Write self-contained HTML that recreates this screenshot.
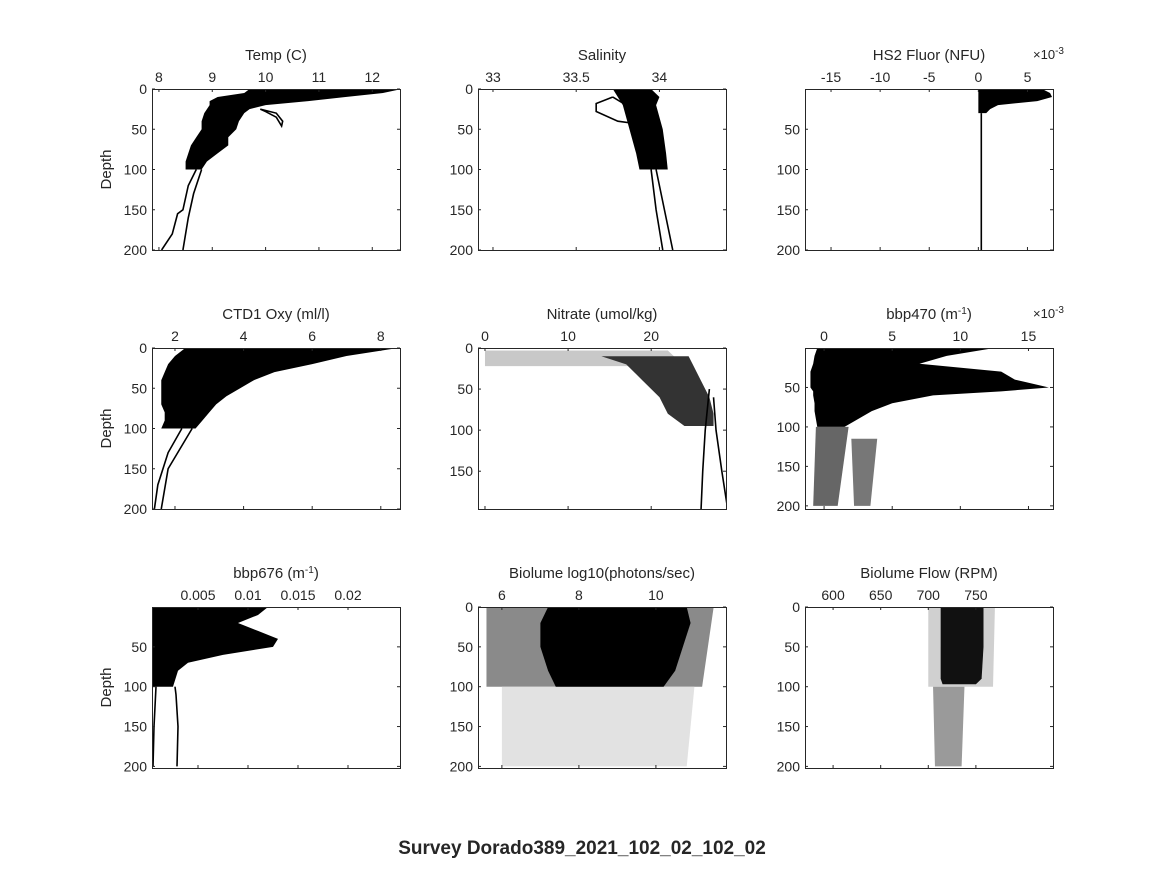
<!DOCTYPE html>
<html><head><meta charset="utf-8"><style>
body{margin:0;background:#fff;}
svg text{font-family:"Liberation Sans","DejaVu Sans",sans-serif;fill:#262626;}
</style></head><body>
<svg id="fig" width="1164" height="864" xmlns="http://www.w3.org/2000/svg">
<rect width="1164" height="864" fill="#fff"/>
<text x="582" y="854" text-anchor="middle" font-size="19" font-weight="bold" fill="#000">Survey Dorado389_2021_102_02_102_02</text>
</svg>
<script>
// ---- data (depth vs value envelopes) ----
const tempDepth=[0,5,10,15,20,25,30,40,50,60,70,80,90,100];
const tempLo=[9.7,9.6,9.1,8.95,8.95,8.9,8.85,8.8,8.8,8.7,8.6,8.55,8.5,8.5];
const tempHi=[12.55,12.2,11.5,10.8,10.0,9.7,9.6,9.5,9.45,9.3,9.3,9.1,8.9,8.8];
const tempLineADepth=[100,120,150,155,180,200];
const tempLineAX=[8.7,8.55,8.45,8.35,8.25,8.05];
const tempLineBDepth=[100,130,160,200];
const tempLineBX=[8.8,8.65,8.55,8.45];
const tempLoopDepth=[25,30,40,46,35,28,25];
const tempLoopX=[9.9,10.2,10.32,10.3,10.2,10.0,9.9];

const salDepth=[0,10,20,50,80,100];
const salLo=[33.72,33.75,33.78,33.82,33.86,33.88];
const salHi=[33.95,34.0,33.98,34.02,34.04,34.05];
const salLineADepth=[100,150,200];
const salLineAX=[33.95,33.98,34.02];
const salLineBDepth=[100,150,200];
const salLineBX=[33.98,34.03,34.08];
const salLoopDepth=[10,18,28,40,42,32,20,10];
const salLoopX=[33.72,33.62,33.62,33.75,33.82,33.86,33.8,33.72];

const fluorDepth=[0,5,10,15,20,25,30];
const fluorLo=[0,0,0,0,0,0,0];
const fluorHi=[6.5,7.3,7.5,6.0,2.0,1.2,0.8];
const fluorLineDepth=[30,60,200];
const fluorLineX=[0.3,0.3,0.3];

const oxyDepth=[0,10,20,30,40,50,60,70,80,90,100];
const oxyLo=[2.3,2.0,1.8,1.7,1.6,1.6,1.6,1.6,1.7,1.7,1.6];
const oxyHi=[8.5,7.0,6.0,4.9,4.3,3.9,3.5,3.2,3.0,2.8,2.6];
const oxyLineADepth=[100,130,170,200];
const oxyLineAX=[2.2,1.8,1.5,1.4];
const oxyLineBDepth=[100,150,200];
const oxyLineBX=[2.5,1.8,1.6];

const nitDepth=[10,20,40,60,80,95];
const nitLo=[14,17,19,21,22,24];
const nitHi=[24.5,25,26,27,27.5,27.5];
const nitSparseDepth=[3,22];
const nitSparseLo=[0,0];
const nitSparseHi=[22,24];
const nitLineADepth=[50,100,150,196];
const nitLineAX=[27,26.5,26.2,26];
const nitLineBDepth=[60,100,150,196];
const nitLineBX=[27.5,27.8,28.5,29.2];

const b470Depth=[0,10,20,30,40,50,55,60,70,80,90,100];
const b470Lo=[-0.5,-0.7,-0.8,-1,-1,-1,-0.8,-0.8,-0.7,-0.7,-0.6,-0.5];
const b470Hi=[12.5,9,7,13,14,16.5,13,8,5,3.5,2.5,1.5];
const b470StreakADepth=[100,200];
const b470StreakALo=[-0.6,-0.8];
const b470StreakAHi=[1.8,1.0];
const b470StreakBDepth=[115,200];
const b470StreakBLo=[2.0,2.2];
const b470StreakBHi=[3.9,3.4];

const b676Depth=[0,10,20,30,40,50,60,70,80,100];
const b676Lo=[0.0004,0.0004,0.0004,0.0004,0.0004,0.0004,0.0004,0.0004,0.0004,0.0005];
const b676Hi=[0.012,0.011,0.009,0.011,0.013,0.0125,0.0075,0.004,0.003,0.0025];
const b676LineADepth=[100,110,150,200];
const b676LineAX=[0.0027,0.0028,0.003,0.0029];
const b676LineBDepth=[100,150,200];
const b676LineBX=[0.0008,0.0006,0.0005];

const bioDepth=[0,20,50,80,100];
const bioLo=[7.2,7.0,7.0,7.2,7.4];
const bioHi=[10.8,10.9,10.7,10.5,10.2];
const bioSparseDepth=[0,100];
const bioSparseLo=[5.6,5.6];
const bioSparseHi=[11.5,11.2];
const bioDeepDepth=[100,200];
const bioDeepLo=[6.0,6.0];
const bioDeepHi=[11.0,10.8];

const flowDepth=[0,50,90,97];
const flowLo=[713,713,713,715];
const flowHi=[758,758,756,750];
const flowSparseDepth=[0,100];
const flowSparseLo=[700,700];
const flowSparseHi=[770,768];
const flowDeepDepth=[100,200];
const flowDeepLo=[705,707];
const flowDeepHi=[738,735];

// ---- panel layout ----
const colX=[152,478,805], rowY=[89,348,607], W=248, H=161;
const panels=[
 {name:'temp',title:'Temp (C)',c:0,r:0,xd:[7.87,12.52],yd:[0,200],xt:[8,9,10,11,12],yt:[0,50,100,150,200],depth:true,
  fills:[[tempDepth,tempLo,tempHi,'#000']],lines:[[tempLineADepth,tempLineAX],[tempLineBDepth,tempLineBX],[tempLoopDepth,tempLoopX]]},
 {name:'salinity',title:'Salinity',c:1,r:0,xd:[32.91,34.4],yd:[0,200],xt:[33,33.5,34],yt:[0,50,100,150,200],
  fills:[[salDepth,salLo,salHi,'#000']],lines:[[salLineADepth,salLineAX],[salLineBDepth,salLineBX],[salLoopDepth,salLoopX]]},
 {name:'fluor',title:'HS2 Fluor (NFU)',c:2,r:0,xd:[-17.65,7.6],yd:[0,200],xt:[-15,-10,-5,0,5],yt:[50,100,150,200],exp:true,
  fills:[[fluorDepth,fluorLo,fluorHi,'#000']],lines:[[fluorLineDepth,fluorLineX]]},
 {name:'oxy',title:'CTD1 Oxy (ml/l)',c:0,r:1,xd:[1.33,8.56],yd:[0,200],xt:[2,4,6,8],yt:[0,50,100,150,200],depth:true,
  fills:[[oxyDepth,oxyLo,oxyHi,'#000']],lines:[[oxyLineADepth,oxyLineAX],[oxyLineBDepth,oxyLineBX]]},
 {name:'nitrate',title:'Nitrate (umol/kg)',c:1,r:1,xd:[-0.84,29],yd:[0,196],xt:[0,10,20],yt:[0,50,100,150],
  fills:[[nitSparseDepth,nitSparseLo,nitSparseHi,'#c8c8c8'],[nitDepth,nitLo,nitHi,'#333']],lines:[[nitLineADepth,nitLineAX],[nitLineBDepth,nitLineBX]]},
 {name:'bbp470',title:'bbp470 (m',sup:'-1',c:2,r:1,xd:[-1.4,16.8],yd:[0,204],xt:[0,5,10,15],yt:[50,100,150,200],exp:true,
  fills:[[b470Depth,b470Lo,b470Hi,'#000'],[b470StreakADepth,b470StreakALo,b470StreakAHi,'#666'],[b470StreakBDepth,b470StreakBLo,b470StreakBHi,'#777']],lines:[]},
 {name:'bbp676',title:'bbp676 (m',sup:'-1',c:0,r:2,xd:[0.0004,0.0252],yd:[0,202],xt:[0.005,0.01,0.015,0.02],yt:[50,100,150,200],depth:true,
  fills:[[b676Depth,b676Lo,b676Hi,'#000']],lines:[[b676LineADepth,b676LineAX],[b676LineBDepth,b676LineBX]]},
 {name:'biolume',title:'Biolume log10(photons/sec)',c:1,r:2,xd:[5.38,11.82],yd:[0,202],xt:[6,8,10],yt:[0,50,100,150,200],
  fills:[[bioSparseDepth,bioSparseLo,bioSparseHi,'#8a8a8a'],[bioDeepDepth,bioDeepLo,bioDeepHi,'#e2e2e2'],[bioDepth,bioLo,bioHi,'#000']],lines:[]},
 {name:'flow',title:'Biolume Flow (RPM)',c:2,r:2,xd:[570.5,831],yd:[0,202],xt:[600,650,700,750],yt:[0,50,100,150,200],
  fills:[[flowSparseDepth,flowSparseLo,flowSparseHi,'#d0d0d0'],[flowDeepDepth,flowDeepLo,flowDeepHi,'#9a9a9a'],[flowDepth,flowLo,flowHi,'#111']],lines:[]}
];
const NS='http://www.w3.org/2000/svg', svg=document.getElementById('fig');
function mk(t,a,p){const e=document.createElementNS(NS,t);for(const k in a)e.setAttribute(k,a[k]);(p||svg).appendChild(e);return e;}
panels.forEach(p=>{
 const x0=colX[p.c], y0=rowY[p.r];
 const sx=v=>x0+(v-p.xd[0])/(p.xd[1]-p.xd[0])*W;
 const sy=v=>y0+(v-p.yd[0])/(p.yd[1]-p.yd[0])*H;
 const g=mk('g',{});
 
 
 const cid='clip-'+p.name;
 const cp=mk('clipPath',{id:cid},g); mk('rect',{x:x0,y:y0,width:W,height:H},cp);
 const dg=mk('g',{'clip-path':'url(#'+cid+')'},g);
 p.fills.forEach(f=>{
  const [d,lo,hi,col]=f; const pts=[];
  for(let i=0;i<d.length;i++)pts.push(sx(lo[i])+','+sy(d[i]));
  for(let i=d.length-1;i>=0;i--)pts.push(sx(hi[i])+','+sy(d[i]));
  const e=mk('polygon',{points:pts.join(' '),fill:col},dg);
  
  
 });
 p.lines.forEach(l=>{
  const [d,x]=l; const pts=d.map((v,i)=>sx(x[i])+','+sy(v)).join(' ');
  const e=mk('polyline',{points:pts,fill:'none',stroke:'#000','stroke-width':1.6},dg);
  
  
 });
 const box=mk('rect',{x:x0+0.5,y:y0+0.5,width:W,height:H,fill:'none',stroke:'#262626','stroke-width':1},g);
 
 
 p.xt.forEach(v=>{
  const x=sx(v);
  mk('line',{x1:x,x2:x,y1:y0,y2:y0+3,stroke:'#262626'},g);
  mk('line',{x1:x,x2:x,y1:y0+H,y2:y0+H-3,stroke:'#262626'},g);
  const t=mk('text',{x:x,y:y0-7,'text-anchor':'middle','font-size':14},g);
  t.textContent=String(v);
  
  
 });
 p.yt.forEach(v=>{
  const y=sy(v);
  mk('line',{x1:x0,x2:x0+3,y1:y,y2:y,stroke:'#262626'},g);
  mk('line',{x1:x0+W,x2:x0+W-3,y1:y,y2:y,stroke:'#262626'},g);
  const t=mk('text',{x:x0-5,y:y+5,'text-anchor':'end','font-size':14},g);
  t.textContent=String(v);
  
  
 });
 const tt=mk('text',{x:x0+W/2,y:y0-29,'text-anchor':'middle','font-size':15},g);
 tt.textContent=p.title;
 if(p.sup){const s=mk('tspan',{'baseline-shift':'super','font-size':10},tt);s.textContent=p.sup;const r=mk('tspan',{},tt);r.textContent=')';}
 
 
 if(p.exp){
  const e=mk('text',{x:x0+W-20,y:y0-30,'font-size':13},g);
  e.textContent='\u00d710';
  const s=mk('tspan',{'baseline-shift':'super','font-size':10},e);s.textContent='-3';
  
  
 }
 if(p.depth){
  const t=mk('text',{x:0,y:0,'text-anchor':'middle','font-size':15,transform:'translate('+(x0-41)+','+(y0+H/2)+') rotate(-90)'},g);
  t.textContent='Depth';
  
  
 }
});
</script>
</body></html>
